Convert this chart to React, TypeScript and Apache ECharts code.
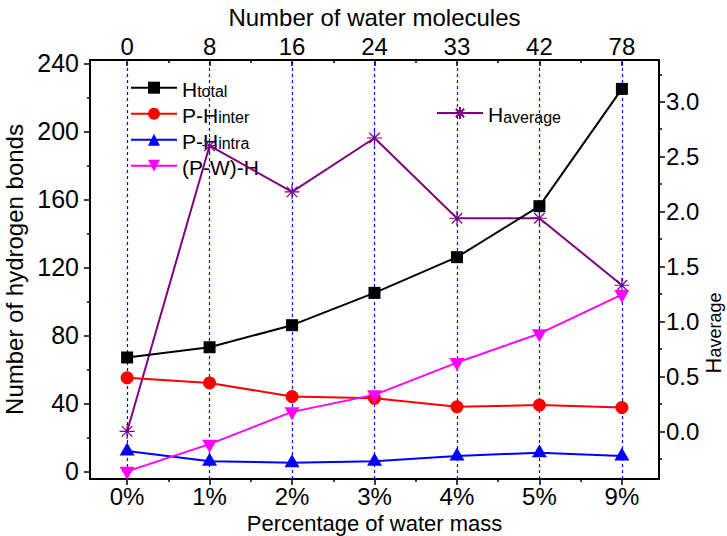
import React, { useEffect, useRef } from 'react';
import * as echarts from 'echarts';

const categories = ['0%', '1%', '2%', '3%', '4%', '5%', '9%'];
const molecules = ['0', '8', '16', '24', '33', '42', '78'];
const hTotal = [67, 73, 86, 105, 126, 156, 225];
const pHInter = [55, 52, 44, 43, 38, 39, 37.5];
const pHIntra = [12, 6, 5, 6, 9, 11, 9];
const pwH = [0, 16, 35, 45, 64, 81, 104];
const hAverage = [0.0, 2.6, 2.18, 2.67, 1.94, 1.94, 1.33];
const leftTicks = [0, 40, 80, 120, 160, 200, 240];
const leftMinor = [20, 60, 100, 140, 180, 220];
const rightTicks = [0, 0.5, 1, 1.5, 2, 2.5, 3];
const rightMinor = [-0.25, 0.25, 0.75, 1.25, 1.75, 2.25, 2.75, 3.25];
const xTicks = [0, 1, 2, 3, 4, 5, 6];
const xMinor = [0.5, 1.5, 2.5, 3.5, 4.5, 5.5];

const FONT = '"Liberation Sans", Arial, sans-serif';

const legendNames: Record<string, string> = {
  Htotal: '{a|H}{b|total}',
  'P-Hinter': '{a|P-H}{b|inter}',
  'P-Hintra': '{a|P-H}{b|intra}',
  '(P-W)-H': '{a|(P-W)-H}',
  Haverage: '{a|H}{b|average}',
};

const rich = {
  a: { fontSize: 21, fontFamily: FONT, color: '#000', lineHeight: 24, verticalAlign: 'bottom' },
  b: { fontSize: 16, fontFamily: FONT, color: '#000', lineHeight: 24, verticalAlign: 'bottom' },
};

const richTitle = {
  a: { fontSize: 22, fontFamily: FONT, color: '#000', lineHeight: 26, verticalAlign: 'bottom' },
  b: { fontSize: 18, fontFamily: FONT, color: '#000', lineHeight: 26, verticalAlign: 'bottom' },
};

const toXY = (arr: number[]) => arr.map((v, i) => [i, v]);

export default function App() {
  const ref = useRef<HTMLDivElement>(null);
  useEffect(() => {
    if (!ref.current) return;
    const chart = echarts.init(ref.current, null, { renderer: 'svg' });
    const xMin = -0.45;
    const xMax = 6.45;
    const axisLine = { show: true, onZero: false, lineStyle: { color: '#000', width: 2 } };
    const noLine = { show: false, onZero: false };
    const baseX = { type: 'value', min: xMin, max: xMax, splitLine: { show: false }, axisLine };
    const baseLabel = { fontSize: 24, fontFamily: FONT, color: '#000' };
    const nameStyle = { fontSize: 24, fontFamily: FONT, color: '#000' };
    const tickStyle = { color: '#000', width: 1.5 };
    const option: any = {
      animation: false,
      backgroundColor: '#fff',
      grid: { left: 90, top: 60, width: 569, height: 419, containLabel: false, outerBoundsMode: 'none' },
      xAxis: [
        {
          ...baseX,
          position: 'bottom',
          axisTick: { show: true, customValues: xTicks, length: 6, lineStyle: tickStyle },
          axisLabel: { ...baseLabel, customValues: xTicks, margin: 5, formatter: (v: number) => categories[Math.round(v)] },
          name: 'Percentage of water mass',
          nameLocation: 'middle',
          nameGap: 25,
          nameTextStyle: { ...nameStyle, fontSize: 22 },
        },
        {
          ...baseX,
          position: 'top',
          axisTick: { show: true, inside: true, customValues: xTicks, length: 6, lineStyle: tickStyle },
          axisLabel: { ...baseLabel, customValues: xTicks, margin: 2, formatter: (v: number) => molecules[Math.round(v)] },
          name: 'Number of water molecules',
          nameLocation: 'middle',
          nameGap: 30,
          nameTextStyle: nameStyle,
        },
        {
          ...baseX,
          position: 'bottom',
          axisLine: noLine,
          axisTick: { show: true, customValues: xMinor, length: 3, lineStyle: tickStyle },
          axisLabel: { show: false },
        },
        {
          ...baseX,
          position: 'top',
          axisLine: noLine,
          axisTick: { show: true, inside: true, customValues: xMinor, length: 3, lineStyle: tickStyle },
          axisLabel: { show: false },
        },
      ],
      yAxis: [
        {
          type: 'value',
          position: 'left',
          min: -4.5,
          max: 242,
          splitLine: { show: false },
          axisLine,
          axisTick: { show: true, customValues: leftTicks, length: 6, lineStyle: tickStyle },
          axisLabel: { ...baseLabel, fontSize: 25, customValues: leftTicks, margin: 11 },
          name: 'Number of hydrogen bonds',
          nameLocation: 'middle',
          nameRotate: 90,
          nameGap: 56,
          nameTextStyle: nameStyle,
        },
        {
          type: 'value',
          position: 'right',
          min: -0.433,
          max: 3.38,
          splitLine: { show: false },
          axisLine,
          axisTick: { show: true, customValues: rightTicks, length: 6, lineStyle: tickStyle },
          axisLabel: { ...baseLabel, customValues: rightTicks, margin: 7, formatter: (v: number) => v.toFixed(1) },
        },
        {
          type: 'value',
          position: 'left',
          min: -4.5,
          max: 242,
          splitLine: { show: false },
          axisLine: noLine,
          axisTick: { show: true, customValues: leftMinor, length: 3, lineStyle: tickStyle },
          axisLabel: { show: false },
        },
        {
          type: 'value',
          position: 'right',
          min: -0.433,
          max: 3.38,
          splitLine: { show: false },
          axisLine: noLine,
          axisTick: { show: true, customValues: rightMinor, length: 3, lineStyle: tickStyle },
          axisLabel: { show: false },
        },
      ],
      legend: [
        {
          data: ['Htotal', 'P-Hinter', 'P-Hintra', '(P-W)-H'],
          orient: 'vertical',
          left: 130,
          top: 78.7,
          padding: 0,
          itemWidth: 46,
          itemHeight: 15,
          itemGap: 5,
          formatter: (n: string) => legendNames[n],
          textStyle: { rich },
        },
        {
          data: ['Haverage'],
          orient: 'vertical',
          left: 436,
          top: 104,
          padding: 0,
          itemWidth: 46,
          itemHeight: 15,
          formatter: (n: string) => legendNames[n],
          textStyle: { rich },
        },
      ],
      graphic: [
        {
          type: 'text',
          x: 711,
          y: 333,
          rotation: Math.PI / 2,
          style: {
            text: '{a|H}{b|average}',
            rich: richTitle,
            align: 'center',
            verticalAlign: 'middle',
          },
        },
      ],
      series: [
        {
          name: 'grid',
          type: 'line',
          xAxisIndex: 0,
          yAxisIndex: 0,
          data: toXY(hTotal),
          showSymbol: false,
          lineStyle: { width: 0, opacity: 0 },
          silent: true,
          z: 1,
          markLine: {
            silent: true,
            symbol: ['none', 'none'],
            label: { show: false },
            lineStyle: { color: '#0000ff', type: [3, 3], width: 1.2, opacity: 1 },
            data: xTicks.map((v) => ({ xAxis: v, lineStyle: { color: '#0000ff' } })),
          },
        },
        {
          name: 'Htotal',
          type: 'line',
          xAxisIndex: 0,
          yAxisIndex: 0,
          data: toXY(hTotal),
          symbol: 'rect',
          symbolSize: 12,
          lineStyle: { color: '#000', width: 2 },
          itemStyle: { color: '#000' },
          z: 5,
        },
        {
          name: 'P-Hinter',
          type: 'line',
          xAxisIndex: 0,
          yAxisIndex: 0,
          data: toXY(pHInter),
          symbol: 'circle',
          symbolSize: 13,
          lineStyle: { color: '#ff0000', width: 2 },
          itemStyle: { color: '#ff0000' },
          z: 5,
        },
        {
          name: 'P-Hintra',
          type: 'line',
          xAxisIndex: 0,
          yAxisIndex: 0,
          data: toXY(pHIntra),
          symbol: 'triangle',
          symbolSize: [15, 13],
          symbolOffset: [0, -2],
          lineStyle: { color: '#0000ff', width: 2 },
          itemStyle: { color: '#0000ff' },
          z: 5,
        },
        {
          name: '(P-W)-H',
          type: 'line',
          xAxisIndex: 0,
          yAxisIndex: 0,
          data: toXY(pwH),
          symbol: 'path://M0,0 L10,0 L5,9 Z',
          symbolSize: [15, 13],
          symbolOffset: [0, 2],
          lineStyle: { color: '#ff00ff', width: 2 },
          itemStyle: { color: '#ff00ff' },
          z: 5,
        },
        {
          name: 'Haverage',
          type: 'line',
          xAxisIndex: 0,
          yAxisIndex: 1,
          data: toXY(hAverage),
          symbol: 'path://M5,0 L5,10 M0,5 L10,5 M1.5,1.5 L8.5,8.5 M1.5,8.5 L8.5,1.5',
          symbolSize: 15,
          lineStyle: { color: '#800080', width: 2 },
          itemStyle: { color: 'rgba(0,0,0,0)', borderColor: '#800080', borderWidth: 1.2 },
          z: 4,
        },
      ],
    };
    chart.setOption(option);
    return () => chart.dispose();
  }, []);
  return <div ref={ref} style={{ width: 727, height: 536, position: 'absolute', left: 0, top: 0 }} />;
}
